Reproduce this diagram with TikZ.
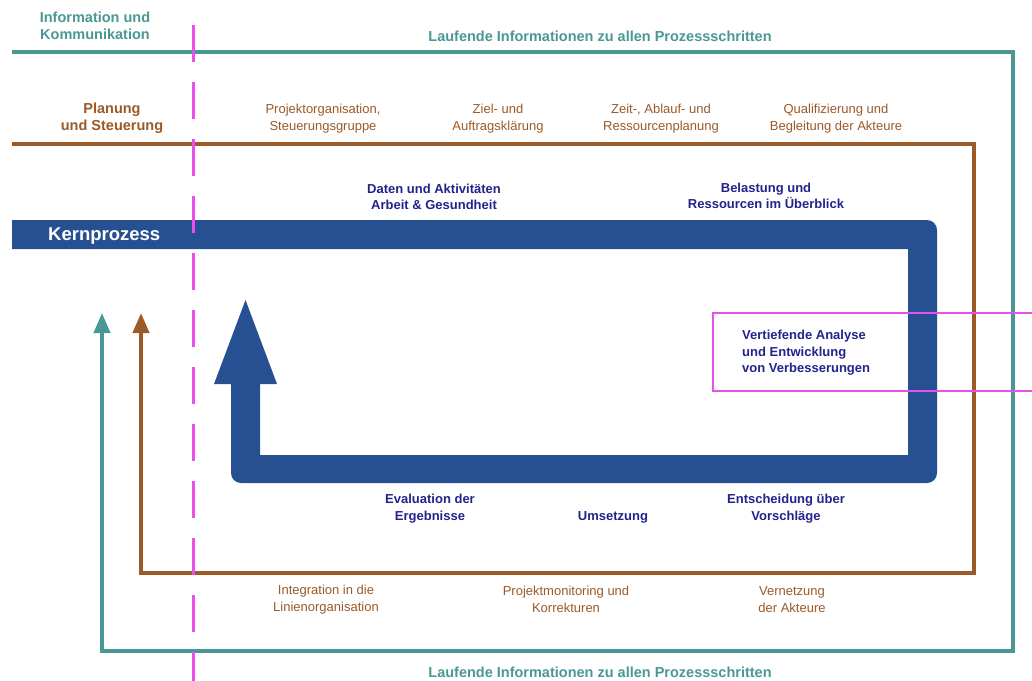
\documentclass[tikz,border=0pt]{standalone}
\usepackage{fontspec}
\setmainfont{Liberation Sans}
\usetikzlibrary{arrows.meta}
\definecolor{tealc}{HTML}{4A9896}
\definecolor{brownc}{HTML}{9B5A28}
\definecolor{kblue}{HTML}{265091}
\definecolor{navy}{HTML}{23238C}
\definecolor{magc}{HTML}{EB4FEB}
\tikzset{
  tealline/.style={draw=tealc, line width=4pt, line join=miter, -{Triangle[width=16pt,length=20pt]}},
  brownline/.style={draw=brownc, line width=4pt, line join=miter, -{Triangle[width=16pt,length=20pt]}},
  headtxt/.style={font=\fontsize{14.5}{17}\selectfont\bfseries, align=center, inner sep=0pt},
  tealtxt/.style={headtxt, text=tealc},
  browntxt/.style={headtxt, text=brownc},
  subtxt/.style={font=\fontsize{13}{17}\selectfont, text=brownc, align=center, inner sep=0pt},
  navytxt/.style={font=\fontsize{13}{16.5}\selectfont\bfseries, text=navy, align=center, inner sep=0pt},
  magline/.style={draw=magc, line width=2.3pt},
}
\begin{document}
\begin{tikzpicture}[x=1pt,y=-1pt]
\useasboundingbox (0,0) rectangle (1032,680);
\fill[white] (0,0) rectangle (1032,680);

% Information und Kommunikation (teal loop)
\coordinate (tA) at (12,52);
\coordinate (tB) at (1013,52);
\coordinate (tC) at (1013,651);
\coordinate (tD) at (102,651);
\coordinate (tE) at (102,313);
\draw[tealline] (tA) -- (tB) -- (tC) -- (tD) -- (tE);

% Planung und Steuerung (brown loop)
\coordinate (bA) at (12,144);
\coordinate (bB) at (974,144);
\coordinate (bC) at (974,573);
\coordinate (bD) at (141,573);
\coordinate (bE) at (141,313);
\draw[brownline] (bA) -- (bB) -- (bC) -- (bD) -- (bE);

% Kernprozess (blue band with arrow)
\fill[kblue] (12,220) -- (927,220) arc[start angle=270,end angle=360,radius=10]
  -- (937,473) arc[start angle=0,end angle=90,radius=10]
  -- (241,483) arc[start angle=90,end angle=180,radius=10]
  -- (231,384) -- (214,384) -- (245.5,300) -- (277,384) -- (260,384)
  -- (260,455) -- (908,455) -- (908,249) -- (12,249) -- cycle;
\node[font=\fontsize{18.5}{20}\selectfont\bfseries, text=white, anchor=west, inner sep=0pt] (kern) at (48,236) {Kernprozess};

% magenta dashed divider
\coordinate (mTop) at (193,25);
\coordinate (mBot) at (193,682);
\draw[draw=magc, line width=3pt, dash pattern=on 37pt off 20pt] (mTop) -- (mBot);

% magenta box
\coordinate (xA) at (1034,313);
\coordinate (xB) at (713,313);
\coordinate (xC) at (713,391);
\coordinate (xD) at (1034,391);
\draw[magline] (xA) -- (xB) -- (xC) -- (xD);
\node[navytxt, align=left, anchor=west] (vert) at (742,353) {Vertiefende Analyse\\und Entwicklung\\von Verbesserungen};

% teal texts
\node[tealtxt] (info) at (95,25.5) {Information und\\Kommunikation};
\node[tealtxt] (lauf1) at (600,36) {Laufende Informationen zu allen Prozessschritten};
\node[tealtxt] (lauf2) at (600,672) {Laufende Informationen zu allen Prozessschritten};

% brown texts
\node[browntxt] (plan) at (112,118) {Planung\\und Steuerung};
\node[subtxt] (p1) at (323,118.5) {Projektorganisation,\\Steuerungsgruppe};
\node[subtxt] (p2) at (498,118.5) {Ziel- und\\Auftragsklärung};
\node[subtxt] (p3) at (661,118.5) {Zeit-, Ablauf- und\\Ressourcenplanung};
\node[subtxt] (p4) at (836,118.5) {Qualifizierung und\\Begleitung der Akteure};
\node[subtxt] (q1) at (326,599.5) {Integration in die\\Linienorganisation};
\node[subtxt] (q2) at (566,599.5) {Projektmonitoring und\\Korrekturen};
\node[subtxt] (q3) at (792,599.5) {Vernetzung\\der Akteure};

% navy texts
\node[navytxt] (k1) at (434,197) {Daten und Aktivitäten\\Arbeit \& Gesundheit};
\node[navytxt] (k2) at (766,196) {Belastung und\\Ressourcen im Überblick};
\node[navytxt] (k3) at (430,508.5) {Evaluation der\\Ergebnisse};
\node[navytxt] (k4) at (613,517) {Umsetzung};
\node[navytxt] (k5) at (786,508.5) {Entscheidung über\\Vorschläge};
\end{tikzpicture}
\end{document}
